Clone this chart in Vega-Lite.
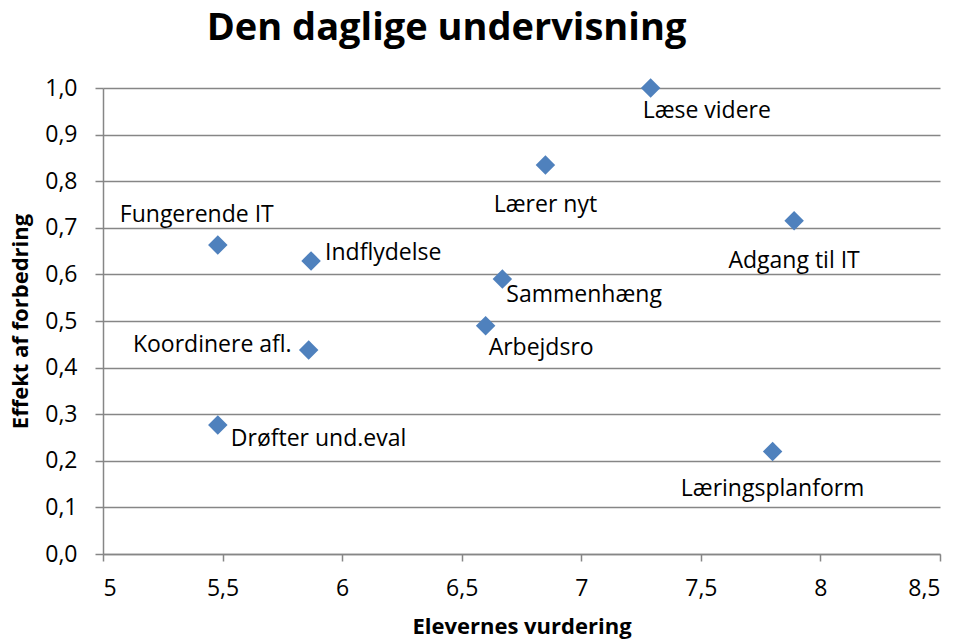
{
  "$schema": "https://vega.github.io/schema/vega-lite/v6.json",
  "width": 837,
  "height": 466,
  "autosize": {"type": "none"},
  "padding": {"left": 103, "top": 88, "right": 18, "bottom": 86},
  "background": "white",
  "title": {
    "text": "Den daglige undervisning",
    "font": "Open Sans",
    "fontSize": 38,
    "fontWeight": "bold",
    "color": "#000000",
    "anchor": "middle",
    "frame": "group",
    "baseline": "alphabetic",
    "dx": -75,
    "dy": 33,
    "offset": 32
  },
  "data": {
    "values": [
      {"navn": "Læse videre", "elev": 7.29, "effekt": 1.0},
      {"navn": "Lærer nyt", "elev": 6.85, "effekt": 0.835},
      {"navn": "Adgang til IT", "elev": 7.89, "effekt": 0.715},
      {"navn": "Fungerende IT", "elev": 5.48, "effekt": 0.663},
      {"navn": "Indflydelse", "elev": 5.87, "effekt": 0.629},
      {"navn": "Sammenhæng", "elev": 6.67, "effekt": 0.59},
      {"navn": "Arbejdsro", "elev": 6.6, "effekt": 0.49},
      {"navn": "Koordinere afl.", "elev": 5.86, "effekt": 0.438},
      {"navn": "Drøfter und.eval", "elev": 5.48, "effekt": 0.277},
      {"navn": "Læringsplanform", "elev": 7.8, "effekt": 0.22}
    ]
  },
  "encoding": {
    "x": {
      "field": "elev",
      "type": "quantitative",
      "title": "Elevernes vurdering",
      "scale": {"domain": [5, 8.5], "nice": false, "zero": false},
      "axis": {
        "values": [5, 5.5, 6, 6.5, 7, 7.5, 8, 8.5],
        "labelExpr": "replace(toString(datum.value), '.', ',')",
        "grid": false,
        "tickSize": 7,
        "labelPadding": 16,
        "titlePadding": 16
      }
    },
    "y": {
      "field": "effekt",
      "type": "quantitative",
      "title": "Effekt af forbedring",
      "scale": {"domain": [0, 1], "nice": false},
      "axis": {
        "values": [0, 0.1, 0.2, 0.3, 0.4, 0.5, 0.6, 0.7, 0.8, 0.9, 1.0],
        "labelExpr": "replace(format(datum.value, '.1f'), '.', ',')",
        "grid": true,
        "tickSize": 8,
        "labelPadding": 18,
        "titlePadding": 12
      }
    }
  },
  "layer": [
    {
      "mark": {"type": "point", "shape": "diamond", "filled": true, "size": 380, "color": "#4F81BD", "opacity": 1}
    },
    {
      "transform": [{"filter": "datum.navn === 'Læse videre'"}],
      "mark": {"type": "text", "align": "left", "baseline": "alphabetic", "dx": -8, "dy": 30},
      "encoding": {"text": {"field": "navn"}}
    },
    {
      "transform": [{"filter": "datum.navn === 'Lærer nyt'"}],
      "mark": {"type": "text", "align": "center", "baseline": "alphabetic", "dx": 0, "dy": 47},
      "encoding": {"text": {"field": "navn"}}
    },
    {
      "transform": [{"filter": "datum.navn === 'Adgang til IT'"}],
      "mark": {"type": "text", "align": "center", "baseline": "alphabetic", "dx": 0, "dy": 47},
      "encoding": {"text": {"field": "navn"}}
    },
    {
      "transform": [{"filter": "datum.navn === 'Fungerende IT'"}],
      "mark": {"type": "text", "align": "center", "baseline": "alphabetic", "dx": -21, "dy": -23},
      "encoding": {"text": {"field": "navn"}}
    },
    {
      "transform": [{"filter": "datum.navn === 'Indflydelse'"}],
      "mark": {"type": "text", "align": "left", "baseline": "alphabetic", "dx": 14, "dy": -1},
      "encoding": {"text": {"field": "navn"}}
    },
    {
      "transform": [{"filter": "datum.navn === 'Sammenhæng'"}],
      "mark": {"type": "text", "align": "left", "baseline": "alphabetic", "dx": 4, "dy": 23},
      "encoding": {"text": {"field": "navn"}}
    },
    {
      "transform": [{"filter": "datum.navn === 'Arbejdsro'"}],
      "mark": {"type": "text", "align": "left", "baseline": "alphabetic", "dx": 3, "dy": 29},
      "encoding": {"text": {"field": "navn"}}
    },
    {
      "transform": [{"filter": "datum.navn === 'Koordinere afl.'"}],
      "mark": {"type": "text", "align": "right", "baseline": "alphabetic", "dx": -17, "dy": 2},
      "encoding": {"text": {"field": "navn"}}
    },
    {
      "transform": [{"filter": "datum.navn === 'Drøfter und.eval'"}],
      "mark": {"type": "text", "align": "left", "baseline": "alphabetic", "dx": 13, "dy": 21},
      "encoding": {"text": {"field": "navn"}}
    },
    {
      "transform": [{"filter": "datum.navn === 'Læringsplanform'"}],
      "mark": {"type": "text", "align": "center", "baseline": "alphabetic", "dx": 0, "dy": 45},
      "encoding": {"text": {"field": "navn"}}
    }
  ],
  "config": {
    "view": {"stroke": null},
    "text": {"font": "Open Sans", "fontSize": 23, "color": "#000000"},
    "axis": {
      "domainColor": "#868686",
      "domainWidth": 1.5,
      "tickColor": "#868686",
      "tickWidth": 1.5,
      "gridColor": "#868686",
      "gridWidth": 1.5,
      "labelFont": "Open Sans",
      "labelFontSize": 23,
      "labelColor": "#000000",
      "titleFont": "Open Sans",
      "titleFontSize": 22,
      "titleFontWeight": "bold",
      "titleColor": "#000000"
    }
  }
}
